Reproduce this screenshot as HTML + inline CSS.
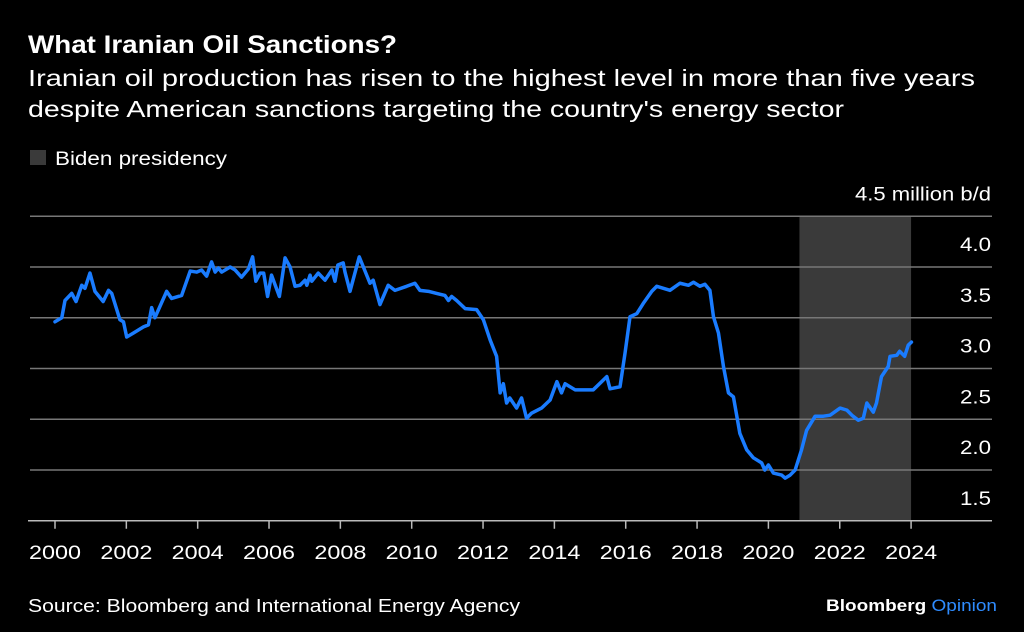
<!DOCTYPE html>
<html><head><meta charset="utf-8"><style>
body{margin:0;background:#000;width:1024px;height:632px;overflow:hidden;font-family:"Liberation Sans",sans-serif;color:#fff}
svg{position:absolute;left:0;top:0}
</style></head><body>
<svg width="1024" height="632">
<text x="28" y="53" font-size="25" font-weight="bold" fill="#fff" textLength="369" lengthAdjust="spacingAndGlyphs">What Iranian Oil Sanctions?</text>
<text x="28" y="86" font-size="23" fill="#fff" textLength="947" lengthAdjust="spacingAndGlyphs">Iranian oil production has risen to the highest level in more than five years</text>
<text x="28" y="117" font-size="23" fill="#fff" textLength="816" lengthAdjust="spacingAndGlyphs">despite American sanctions targeting the country's energy sector</text>
<rect x="30" y="150" width="16" height="15" fill="#3a3a3a"/>
<text x="55" y="165" font-size="19" fill="#fff" textLength="172" lengthAdjust="spacingAndGlyphs">Biden presidency</text>
<g id="plot"></g>
<text x="28" y="612" font-size="18" fill="#fff" textLength="492" lengthAdjust="spacingAndGlyphs">Source: Bloomberg and International Energy Agency</text>
<text x="826" y="611" font-size="17" font-weight="bold" fill="#fff" textLength="171" lengthAdjust="spacingAndGlyphs">Bloomberg <tspan fill="#2f8cff" font-weight="normal">Opinion</tspan></text>
</svg>
<script>
const years=[2000.0,2000.19,2000.28,2000.47,2000.59,2000.75,2000.84,2000.98,2001.12,2001.35,2001.5,2001.59,2001.82,2001.92,2002.01,2002.2,2002.48,2002.62,2002.71,2002.8,2003.13,2003.27,2003.55,2003.79,2003.97,2004.11,2004.25,2004.39,2004.49,2004.58,2004.67,2004.91,2005.05,2005.23,2005.42,2005.54,2005.63,2005.75,2005.85,2005.96,2006.07,2006.29,2006.45,2006.59,2006.73,2006.87,2007.01,2007.06,2007.15,2007.2,2007.38,2007.57,2007.76,2007.85,2007.93,2008.08,2008.13,2008.27,2008.53,2008.83,2008.92,2009.11,2009.34,2009.53,2009.86,2010.09,2010.23,2010.47,2010.7,2010.93,2011.03,2011.12,2011.26,2011.5,2011.82,2012.01,2012.2,2012.38,2012.48,2012.57,2012.66,2012.75,2012.94,2013.08,2013.22,2013.36,2013.64,2013.88,2014.07,2014.2,2014.3,2014.58,2015.09,2015.47,2015.56,2015.84,2015.98,2016.12,2016.31,2016.49,2016.73,2016.87,2017.24,2017.52,2017.76,2017.9,2018.08,2018.22,2018.36,2018.46,2018.6,2018.74,2018.88,2019.02,2019.2,2019.39,2019.58,2019.81,2019.9,2020.0,2020.14,2020.37,2020.47,2020.61,2020.75,2020.93,2021.07,2021.31,2021.54,2021.73,2022.01,2022.2,2022.34,2022.52,2022.66,2022.76,2022.94,2023.03,2023.17,2023.36,2023.41,2023.6,2023.68,2023.82,2023.92,2024.01];
const production=[3.46,3.50,3.67,3.74,3.66,3.82,3.79,3.94,3.76,3.66,3.77,3.74,3.48,3.46,3.31,3.35,3.41,3.43,3.60,3.50,3.76,3.69,3.72,3.96,3.95,3.97,3.91,4.05,3.95,3.99,3.95,4.00,3.97,3.90,3.98,4.10,3.86,3.94,3.94,3.71,3.92,3.71,4.09,4.00,3.81,3.82,3.87,3.82,3.92,3.86,3.94,3.87,3.97,3.86,4.02,4.04,3.95,3.76,4.10,3.84,3.87,3.63,3.82,3.77,3.81,3.84,3.77,3.76,3.74,3.72,3.67,3.71,3.67,3.59,3.58,3.48,3.28,3.12,2.76,2.85,2.66,2.71,2.61,2.71,2.51,2.56,2.61,2.69,2.87,2.76,2.85,2.79,2.79,2.92,2.80,2.82,3.15,3.51,3.54,3.64,3.76,3.81,3.77,3.84,3.82,3.85,3.81,3.83,3.77,3.51,3.35,3.02,2.76,2.72,2.36,2.20,2.12,2.07,2.00,2.05,1.97,1.95,1.92,1.95,2.00,2.20,2.39,2.53,2.53,2.54,2.61,2.59,2.54,2.49,2.51,2.66,2.57,2.66,2.92,3.02,3.12,3.13,3.17,3.12,3.23,3.26];
const yTicks=[1.5,2.0,2.5,3.0,3.5,4.0,4.5];
const xTicks=[2000,2002,2004,2006,2008,2010,2012,2014,2016,2018,2020,2022,2024];
const bidenStart=2020.87, bidenEnd=2024.0;
const X=y=>55+(y-2000)*35.67;
const Y=v=>267-(v-4)*101.5;
const NS='http://www.w3.org/2000/svg';
const g=document.getElementById('plot');
function mk(t,a){const e=document.createElementNS(NS,t);for(const k in a)e.setAttribute(k,a[k]);g.appendChild(e);return e;}
const sh=mk('rect',{x:X(bidenStart),y:Y(4.5),width:X(bidenEnd)-X(bidenStart),height:Y(1.5)-Y(4.5),fill:'#3a3a3a'});


yTicks.forEach(v=>{
  const l=mk('line',{x1:v===1.5?28:30,x2:992,y1:Y(v),y2:Y(v),stroke:v===1.5?'#bbb':'#777','stroke-width':1.5});
  
  
  const big=v===4.5;
  const t=mk('text',{x:991,y:Y(v)-16,'font-size':19,fill:'#fff','text-anchor':'end',textLength:big?136:31,lengthAdjust:'spacingAndGlyphs'});
  t.textContent=big?'4.5 million b/d':v.toFixed(1);
  
  
});
xTicks.forEach(yr=>{
  const tk=mk('line',{x1:X(yr),x2:X(yr),y1:Y(1.5),y2:Y(1.5)+8,stroke:'#bbb','stroke-width':1.5});
  
  
  const t=mk('text',{x:X(yr)-26,y:559,'font-size':19,fill:'#fff',textLength:52,lengthAdjust:'spacingAndGlyphs'});
  t.textContent=yr;
  
  
});
const p=mk('polyline',{points:years.map((y,i)=>X(y)+','+Y(production[i])).join(' '),fill:'none',stroke:'#1a7cff','stroke-width':3.5,'stroke-linejoin':'round','stroke-linecap':'round'});


</script>
</body></html>
